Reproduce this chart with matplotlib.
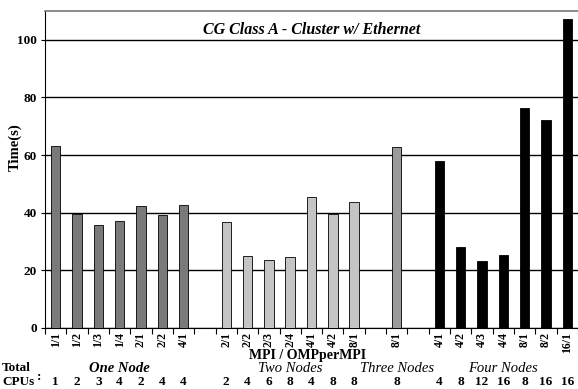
import numpy as np
import matplotlib.pyplot as plt
import matplotlib as mpl

mpl.rcParams["font.family"] = "Liberation Serif"

# MPI / OMP-per-MPI configurations for each node count
one_node_labels = ["1/1", "1/2", "1/3", "1/4", "2/1", "2/2", "4/1"]
one_node_times = [63.1, 39.7, 35.6, 37.0, 42.4, 39.1, 42.8]
one_node_cpus = [1, 2, 3, 4, 2, 4, 4]

two_node_labels = ["2/1", "2/2", "2/3", "2/4", "4/1", "4/2", "8/1"]
two_node_times = [36.7, 25.0, 23.6, 24.5, 45.4, 39.7, 43.7]
two_node_cpus = [2, 4, 6, 8, 4, 8, 8]

three_node_labels = ["8/1"]
three_node_times = [62.8]
three_node_cpus = [8]

four_node_labels = ["4/1", "4/2", "4/3", "4/4", "8/1", "8/2", "16/1"]
four_node_times = [57.8, 28.0, 23.4, 25.5, 76.4, 72.3, 107.2]
four_node_cpus = [4, 8, 12, 16, 8, 16, 16]

group_names = ["One Node", "Two Nodes", "Three Nodes", "Four Nodes"]
group_colors = ["#7a7a7a", "#c4c4c4", "#9a9a9a", "#000000"]

groups = [
    (one_node_labels, one_node_times, one_node_cpus),
    (two_node_labels, two_node_times, two_node_cpus),
    (three_node_labels, three_node_times, three_node_cpus),
    (four_node_labels, four_node_times, four_node_cpus),
]

fig = plt.figure(figsize=(5.78, 3.89), dpi=100)
ax = fig.add_axes([45 / 578, 61 / 389, 533 / 578, 317 / 389])

ax.set_axisbelow(True)
ax.yaxis.grid(True, color="black", linewidth=1.0)

pos = 0
centers = []
labels = []
group_mid = []
for (labs, times, cpus), color in zip(groups, group_colors):
    xs = np.arange(pos, pos + len(labs))
    ax.bar(xs, times, width=0.44, color=color, edgecolor="black", linewidth=0.6, zorder=3)
    centers.extend(xs)
    labels.extend(labs)
    group_mid.append((xs, cpus))
    pos += len(labs) + 1

n_slots = pos - 1
ax.set_xlim(-0.5, -0.5 + 533 / 21.46)
ax.set_ylim(0, 110)

ax.set_xticks(centers)
ax.set_xticklabels(labels, rotation=90, fontsize=8.5, fontweight="bold")
ax.set_xticks(np.arange(-0.5, n_slots + 0.5, 1.0), minor=True)
ax.tick_params(axis="x", which="major", length=0, pad=3)
ax.tick_params(axis="x", which="minor", length=4, width=0.8, direction="out")
ax.set_yticks(np.arange(0, 101, 20))
ax.tick_params(axis="y", length=3, width=0.8, labelsize=9.5, pad=3)
for t in ax.get_yticklabels():
    t.set_fontweight("bold")

ax.spines["right"].set_visible(False)
ax.spines["top"].set_color("#777777")
ax.spines["top"].set_linewidth(1.2)
ax.spines["left"].set_linewidth(0.8)
ax.spines["bottom"].set_linewidth(0.8)

ax.set_ylabel("Time(s)", fontsize=10.5, fontweight="bold")
ax.yaxis.set_label_coords(-0.044, 0.57)
ax.text(0.5, 0.94, "CG Class A - Cluster w/ Ethernet", transform=ax.transAxes,
        ha="center", va="center", fontsize=11.5, fontweight="bold", style="italic")

# x-axis title and group / CPU count rows below the axis
fig.text(308 / 578, 1 - 355 / 389, "MPI / OMPperMPI", ha="center", va="center",
         fontsize=10, fontweight="bold")
fig.text(2 / 578, 1 - 368 / 389, "Total", ha="left", va="center", fontsize=9.5, fontweight="bold")
fig.text(2 / 578, 1 - 382 / 389, "CPUs", ha="left", va="center", fontsize=9.5, fontweight="bold")
fig.text(37 / 578, 1 - 377 / 389, ":", ha="left", va="center", fontsize=9.5, fontweight="bold")

trans = mpl.transforms.blended_transform_factory(ax.transData, fig.transFigure)
for i, (xs, cpus) in enumerate(group_mid):
    mid = (xs[0] + xs[-1]) / 2
    weight = "bold" if i == 0 else "normal"
    ax.text(mid, 1 - 368 / 389, group_names[i], transform=trans, ha="center", va="center",
            fontsize=10.5, style="italic", fontweight=weight, clip_on=False)
    for x, c in zip(xs, cpus):
        ax.text(x, 1 - 382 / 389, str(c), transform=trans, ha="center", va="center",
                fontsize=9.5, fontweight="bold", clip_on=False)

fig.savefig("out.png", dpi=100)
